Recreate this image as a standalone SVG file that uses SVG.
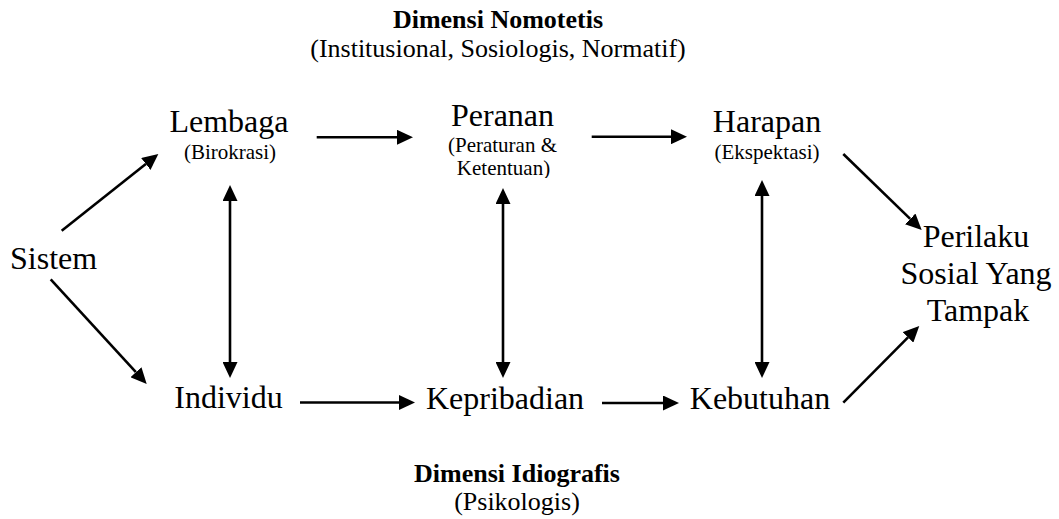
<svg xmlns="http://www.w3.org/2000/svg" width="1059" height="519" viewBox="0 0 1059 519">
  <style>
    text { font-family: "Liberation Serif", "Times New Roman", serif; fill: #000; }
    .main { font-size: 32px; }
    .sub { font-size: 21px; }
    .head { font-size: 26px; font-weight: bold; }
    .note { font-size: 26px; }
    .c { text-anchor: middle; }
    .link { stroke: #000; stroke-width: 2.6; fill: none; marker-end: url(#arrow); }
    .both { marker-start: url(#arrow); }
  </style>
  <defs>
    <marker id="arrow" markerUnits="userSpaceOnUse" markerWidth="16" markerHeight="15" refX="0" refY="7.5" orient="auto-start-reverse">
      <path d="M0,0 L16,7.5 L0,15 Z" fill="#000"/>
    </marker>
    <clipPath id="clipKet">
      <rect x="400" y="140" width="200" height="38"/>
    </clipPath>
  </defs>
  <rect width="1059" height="519" fill="#fff"/>

  <!-- headings -->
  <g id="nomotetis">
    <text class="head c" x="498" y="28">Dimensi Nomotetis</text>
    <text class="note c" x="498" y="57">(Institusional, Sosiologis, Normatif)</text>
  </g>
  <g id="idiografis">
    <text class="head c" x="517" y="482">Dimensi Idiografis</text>
    <text class="note c" x="517" y="510">(Psikologis)</text>
  </g>

  <!-- nodes -->
  <g id="sistem"><text class="main" x="10" y="269">Sistem</text></g>
  <g id="lembaga">
    <text class="main c" x="229" y="132">Lembaga</text>
    <text class="sub c" x="230" y="159">(Birokrasi)</text>
  </g>
  <g id="peranan">
    <text class="main c" x="502.5" y="126">Peranan</text>
    <text class="sub c" x="502.5" y="152">(Peraturan &amp;</text>
    <text class="sub c" x="503.5" y="175" clip-path="url(#clipKet)">Ketentuan)</text>
  </g>
  <g id="harapan">
    <text class="main c" x="767" y="132">Harapan</text>
    <text class="sub c" x="767" y="159">(Ekspektasi)</text>
  </g>
  <g id="perilaku">
    <text class="main c" x="976" y="247">Perilaku</text>
    <text class="main c" x="976" y="284">Sosial Yang</text>
    <text class="main c" x="978" y="321">Tampak</text>
  </g>
  <g id="individu"><text class="main c" x="228.5" y="408">Individu</text></g>
  <g id="kepribadian"><text class="main c" x="505" y="409">Kepribadian</text></g>
  <g id="kebutuhan"><text class="main c" x="760" y="409">Kebutuhan</text></g>

  <!-- connectors -->
  <g id="connectors">
    <line class="link" x1="61.7" y1="230.7" x2="145.8" y2="164"/>
    <line class="link" x1="50.7" y1="279.3" x2="135.9" y2="372.2"/>
    <line class="link" x1="316.7" y1="137.3" x2="397" y2="137.3"/>
    <line class="link" x1="591.7" y1="136.7" x2="671" y2="136.7"/>
    <line class="link" x1="300" y1="402.5" x2="399" y2="402.5"/>
    <line class="link" x1="602" y1="403" x2="663" y2="403"/>
    <line class="link both" x1="230" y1="201" x2="230" y2="362"/>
    <line class="link both" x1="503" y1="204" x2="503" y2="362"/>
    <line class="link both" x1="762" y1="196" x2="762" y2="362"/>
    <line class="link" x1="843.3" y1="154" x2="910.2" y2="218.9"/>
    <line class="link" x1="843.3" y1="402.7" x2="908" y2="337.4"/>
  </g>
</svg>
